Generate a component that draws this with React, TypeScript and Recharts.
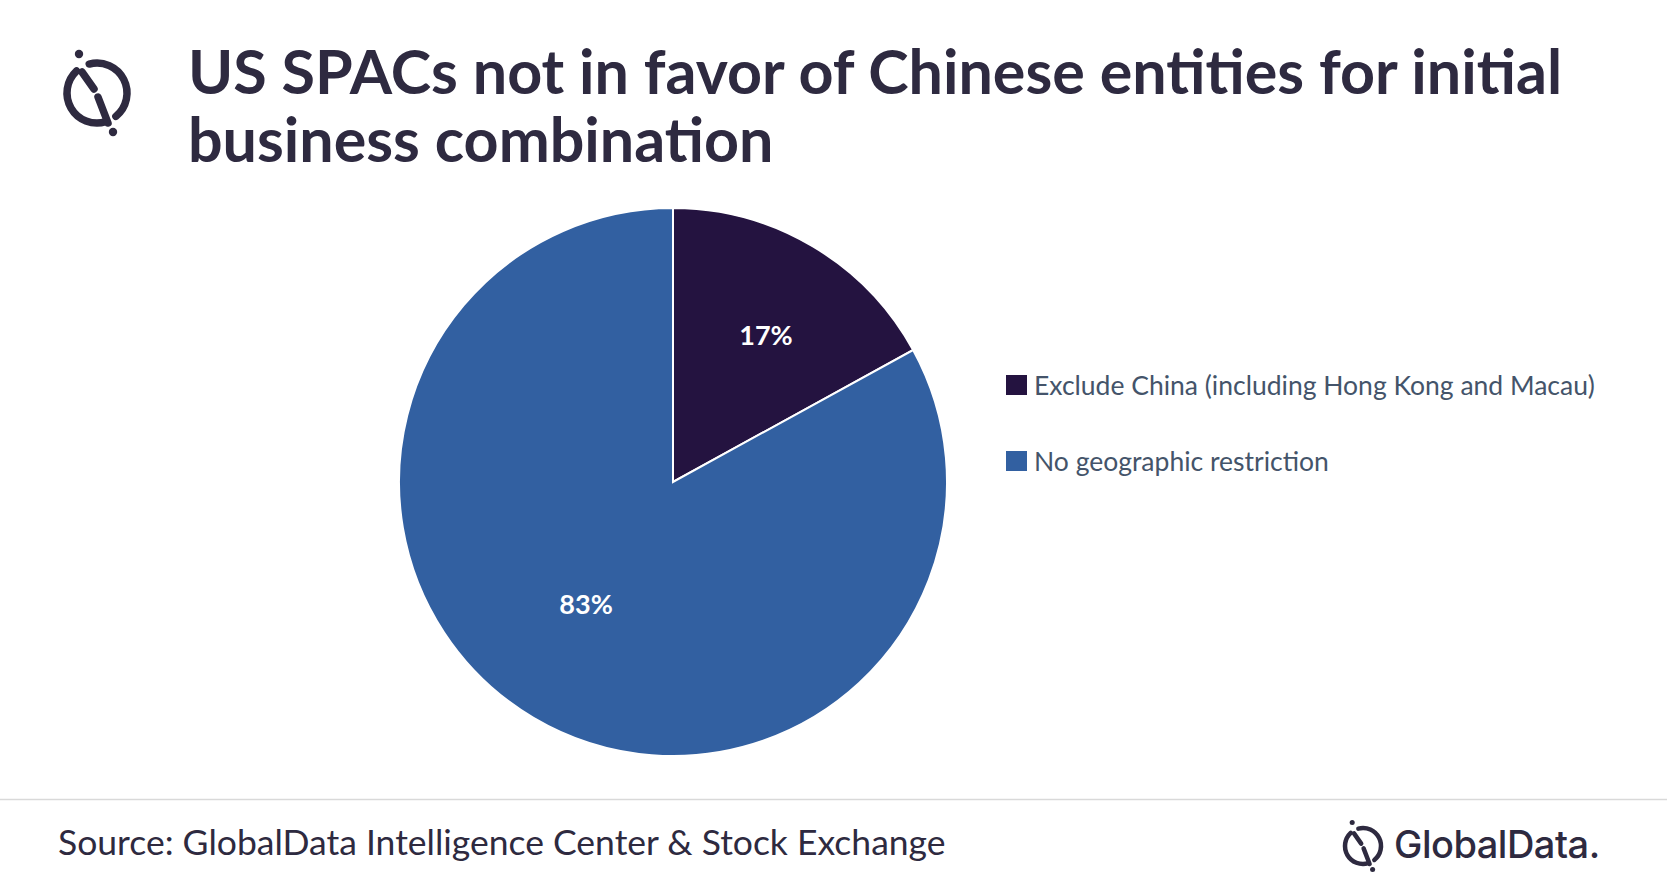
import { PieChart, Pie, Cell, Legend } from 'recharts';

const categories = ['Exclude China (including Hong Kong and Macau)', 'No geographic restriction'];
const shares = [17, 83];
const sliceColors = ['#241340', '#3260A1'];

const titleLines = ['US SPACs not in favor of Chinese entities for initial', 'business combination'];
const sourceText = 'Source: GlobalData Intelligence Center & Stock Exchange';
const brandText = 'GlobalData.';

const data = categories.map((name, i) => ({ name, value: shares[i] }));

const RADIAN = Math.PI / 180;
// Excel puts the labels at slightly different spots inside each slice
const labelDepth = [0.635, 0.545];
const labelShift = [-1.7, -5];

const ink = '#2E2A40';

function renderLabel(props: any) {
  const { cx, cy, midAngle, outerRadius, index, value } = props;
  const r = outerRadius * labelDepth[index];
  const a = midAngle + labelShift[index];
  const x = cx + r * Math.cos(-a * RADIAN);
  const y = cy + r * Math.sin(-a * RADIAN);
  return (
    <text
      x={x}
      y={y}
      fill="#fff"
      textAnchor="middle"
      dominantBaseline="central"
      style={{ fontFamily: 'Lato', fontWeight: 700, fontSize: 27 }}
    >
      {value}%
    </text>
  );
}

function LegendContent(props: any) {
  const { payload = [] } = props;
  return (
    <div style={{ fontFamily: 'Lato', fontSize: 26.5, color: '#44546A' }}>
      {payload.map((p: any) => (
        <div key={p.value} style={{ display: 'flex', alignItems: 'center', height: 76 }}>
          <span style={{ width: 21, height: 20, background: p.color, marginRight: 7, flex: 'none' }} />
          <span style={{ whiteSpace: 'nowrap' }}>{p.value}</span>
        </div>
      ))}
    </div>
  );
}

function Logo({ x, y, s }: { x: number; y: number; s: number }) {
  const R = 30;
  const pt = (deg: number) => [R * Math.cos(deg * RADIAN), R * Math.sin(deg * RADIAN)];
  const [a1x, a1y] = pt(227);
  const [a2x, a2y] = pt(73);
  const [b1x, b1y] = pt(255);
  const [b2x, b2y] = pt(51);
  return (
    <g transform={`translate(${x},${y}) scale(${s})`} stroke={ink} strokeWidth={7.5} strokeLinecap="round" fill="none">
      <path d={`M${a1x},${a1y} A${R},${R} 0 0 0 ${a2x},${a2y}`} />
      <path d={`M${b1x},${b1y} A${R},${R} 0 0 1 ${b2x},${b2y}`} />
      <line x1={-15} y1={-21} x2={-3} y2={-4} />
      <line x1={1} y1={4} x2={11} y2={30} />
      <circle cx={-18} cy={-39} r={4.2} fill={ink} stroke="none" />
      <circle cx={16} cy={39} r={4.2} fill={ink} stroke="none" />
    </g>
  );
}

export default function App() {
  return (
    <div
      style={{
        position: 'absolute',
        left: 0,
        top: 0,
        width: 1667,
        height: 894,
        background: '#fff',
        overflow: 'hidden',
      }}
    >
      <PieChart width={1667} height={894} margin={{ top: 0, right: 0, bottom: 0, left: 0 }}>
        <Pie
          data={data}
          dataKey="value"
          nameKey="name"
          cx={673}
          cy={482}
          outerRadius={274}
          startAngle={90}
          endAngle={-270}
          stroke="#fff"
          strokeWidth={2}
          label={renderLabel}
          labelLine={false}
          isAnimationActive={false}
        >
          {data.map((d, i) => (
            <Cell key={d.name} fill={sliceColors[i]} />
          ))}
        </Pie>
        <Legend
          layout="vertical"
          align="right"
          verticalAlign="middle"
          content={<LegendContent />}
          wrapperStyle={{ left: 1006, top: 347, width: 650 }}
        />
      </PieChart>

      <svg width={1667} height={894} style={{ position: 'absolute', left: 0, top: 0, pointerEvents: 'none' }}>
        <Logo x={97} y={93} s={1} />
        {titleLines.map((t, i) => (
          <text key={t} x={188} y={94 + i * 68} fill={ink} style={{ fontFamily: 'Lato', fontWeight: 700, fontSize: 61 }}>
            {t}
          </text>
        ))}
        <line x1={0} y1={799.5} x2={1667} y2={799.5} stroke="#D9D9D9" strokeWidth={1.5} />
        <text x={58} y={855} fill={ink} style={{ fontFamily: 'Lato', fontSize: 35.5 }}>
          {sourceText}
        </text>
        <Logo x={1363} y={846} s={0.6} />
        <text x={1394} y={858} fill={ink} style={{ fontFamily: 'Inter', fontWeight: 500, fontSize: 38, letterSpacing: -0.5 }}>
          {brandText}
        </text>
      </svg>
    </div>
  );
}
